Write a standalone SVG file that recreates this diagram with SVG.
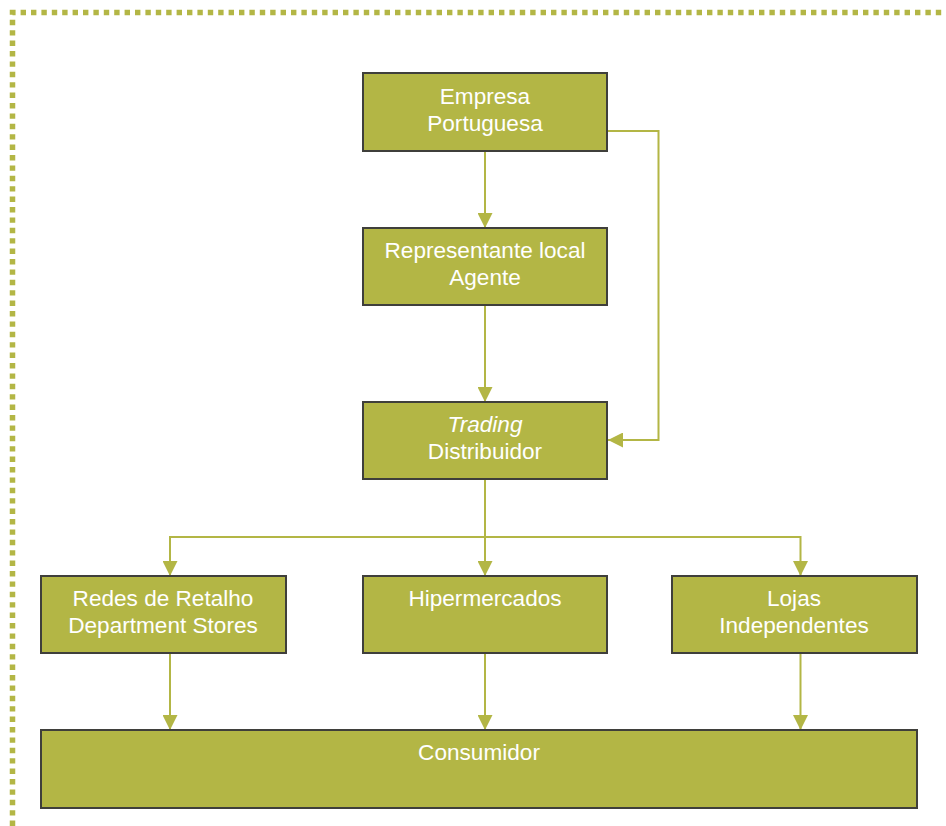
<svg xmlns="http://www.w3.org/2000/svg" width="946" height="826" viewBox="0 0 946 826">
  <style>
    .box { fill: #b3b645; stroke: #3f3f3b; stroke-width: 2; }
    .lbl { fill: #ffffff; font-family: "Liberation Sans", Arial, sans-serif; font-size: 22.6px; text-anchor: middle; }
    .it { font-style: italic; }
    .wire { fill: none; stroke: #b3b645; stroke-width: 2; }
    .frame { fill: none; stroke: #b3b645; stroke-width: 5.5; stroke-dasharray: 5.4 5; }
  </style>
  <defs>
    <marker id="arrow" viewBox="0 0 15 15" refX="15" refY="7.5" markerWidth="15" markerHeight="15" markerUnits="userSpaceOnUse" orient="auto">
      <path d="M0,0 L15,7.5 L0,15 Z" fill="#b3b645"/>
    </marker>
  </defs>

  <!-- dotted page frame -->
  <path class="frame" d="M12.5,826 V12.5 H946"/>

  <!-- connectors -->
  <g id="connectors">
    <path class="wire" d="M485,151 V228" marker-end="url(#arrow)"/>
    <path class="wire" d="M485,305 V402" marker-end="url(#arrow)"/>
    <path class="wire" d="M607,131 H658.5 V440 H608" marker-end="url(#arrow)"/>
    <path class="wire" d="M485,479 V576" marker-end="url(#arrow)"/>
    <path class="wire" d="M170,576 V537 H800.5 V576" marker-end="url(#arrow)"/>
    <path class="wire" d="M170,537 V576" marker-end="url(#arrow)"/>
    <path class="wire" d="M170,653 V730" marker-end="url(#arrow)"/>
    <path class="wire" d="M485,653 V730" marker-end="url(#arrow)"/>
    <path class="wire" d="M800.5,653 V730" marker-end="url(#arrow)"/>
  </g>

  <g id="empresa">
    <rect class="box" x="363" y="73" width="244" height="78"/>
    <text class="lbl" x="485" y="104">Empresa</text>
    <text class="lbl" x="485" y="131">Portuguesa</text>
  </g>

  <g id="representante">
    <rect class="box" x="363" y="228" width="244" height="77"/>
    <text class="lbl" x="485" y="258">Representante local</text>
    <text class="lbl" x="485" y="285">Agente</text>
  </g>

  <g id="trading">
    <rect class="box" x="363" y="402" width="244" height="77"/>
    <text class="lbl it" x="485" y="432">Trading</text>
    <text class="lbl" x="485" y="459">Distribuidor</text>
  </g>

  <g id="redes">
    <rect class="box" x="41" y="576" width="245" height="77"/>
    <text class="lbl" x="163" y="606">Redes de Retalho</text>
    <text class="lbl" x="163" y="633">Department Stores</text>
  </g>

  <g id="hipermercados">
    <rect class="box" x="363" y="576" width="244" height="77"/>
    <text class="lbl" x="485" y="606">Hipermercados</text>
  </g>

  <g id="lojas">
    <rect class="box" x="672" y="576" width="245" height="77"/>
    <text class="lbl" x="794" y="606">Lojas</text>
    <text class="lbl" x="794" y="633">Independentes</text>
  </g>

  <g id="consumidor">
    <rect class="box" x="41" y="730" width="876" height="78"/>
    <text class="lbl" x="479" y="760">Consumidor</text>
  </g>
</svg>
